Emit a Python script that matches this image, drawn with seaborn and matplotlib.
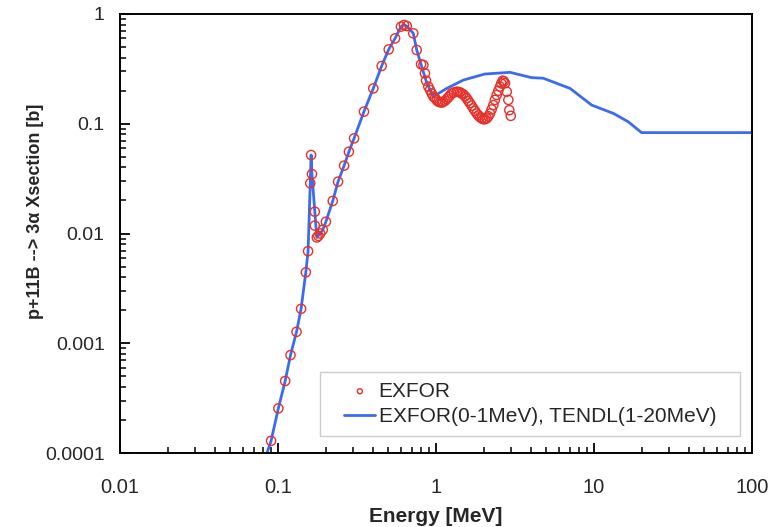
import numpy as np
import pandas as pd
import matplotlib
matplotlib.use("Agg")
import matplotlib.pyplot as plt
import matplotlib.ticker as mticker
from matplotlib.patches import Rectangle
import seaborn as sns

# EXFOR measured points (energy in MeV, cross section in barn)
exfor_e = [0.0904, 0.1005, 0.111, 0.120, 0.131, 0.140, 0.150, 0.155, 0.160, 0.162,
           0.164, 0.171, 0.171, 0.176, 0.180, 0.185, 0.192, 0.201, 0.222, 0.240,
           0.262, 0.281, 0.303, 0.350, 0.401, 0.453, 0.502, 0.551, 0.600, 0.627,
           0.653, 0.718, 0.755, 0.804, 0.832, 0.851, 0.865, 0.894, 0.917, 0.939,
           0.962, 0.986, 1.01, 1.034, 1.06, 1.087, 1.11, 1.140, 1.17, 1.196,
           1.225, 1.256, 1.30, 1.352, 1.385, 1.419, 1.45, 1.488, 1.525, 1.563,
           1.60, 1.641, 1.68, 1.722, 1.765, 1.811, 1.855, 1.897, 1.945, 1.991,
           2.04, 2.094, 2.145, 2.197, 2.25, 2.307, 2.36, 2.421, 2.48, 2.541,
           2.59, 2.642, 2.69, 2.733, 2.805, 2.870, 2.911, 2.972]
exfor_xs = [0.000129, 0.000255, 0.000453, 0.00078, 0.00127, 0.00206, 0.00443, 0.0069, 0.0287, 0.0519,
            0.0348, 0.0158, 0.0118, 0.0092, 0.0095, 0.0100, 0.0108, 0.0128, 0.0198, 0.0297,
            0.0415, 0.0556, 0.0736, 0.129, 0.210, 0.336, 0.476, 0.600, 0.767, 0.794,
            0.777, 0.667, 0.470, 0.348, 0.343, 0.288, 0.247, 0.218, 0.203, 0.189,
            0.177, 0.171, 0.164, 0.159, 0.157, 0.156, 0.158, 0.162, 0.168, 0.174,
            0.181, 0.189, 0.193, 0.196, 0.195, 0.193, 0.189, 0.185, 0.178, 0.171,
            0.162, 0.154, 0.146, 0.138, 0.131, 0.124, 0.119, 0.115, 0.112, 0.110,
            0.110, 0.112, 0.117, 0.124, 0.135, 0.148, 0.165, 0.183, 0.200, 0.218,
            0.233, 0.247, 0.243, 0.234, 0.196, 0.165, 0.133, 0.118]

# evaluated curve: EXFOR below 1 MeV, TENDL 1-20 MeV, flat above
eval_e = [0.0851, 0.0904, 0.1005, 0.111, 0.120, 0.131, 0.140, 0.150, 0.155, 0.160,
          0.162, 0.164, 0.171, 0.176, 0.185, 0.192, 0.201, 0.222, 0.240, 0.262,
          0.281, 0.303, 0.350, 0.401, 0.453, 0.502, 0.551, 0.600, 0.627, 0.653,
          0.718, 0.755, 0.804, 0.865, 0.917, 0.962, 1.17, 1.49, 2.04, 2.94,
          4.03, 4.77, 7.05, 9.66, 13.3, 16.5, 20.0, 100.0]
eval_xs = [0.0001, 0.000129, 0.000255, 0.000453, 0.00078, 0.00127, 0.00206, 0.00443, 0.0069, 0.0287,
           0.0519, 0.0348, 0.0158, 0.0092, 0.0100, 0.0108, 0.0128, 0.0198, 0.0297, 0.0415,
           0.0556, 0.0736, 0.129, 0.210, 0.336, 0.476, 0.600, 0.767, 0.794, 0.777,
           0.667, 0.470, 0.348, 0.247, 0.203, 0.177, 0.21, 0.25, 0.284, 0.294,
           0.263, 0.26, 0.21, 0.148, 0.124, 0.104, 0.083, 0.083]

exfor = pd.DataFrame({"E": exfor_e, "xs": exfor_xs})
evald = pd.DataFrame({"E": eval_e, "xs": eval_xs})

sns.set_style("ticks")
plt.rcParams["font.family"] = ["Liberation Sans", "DejaVu Sans"]

fig = plt.figure(figsize=(7.71, 5.27), dpi=100)
ax = fig.add_axes([120 / 771, 1 - 453 / 527, 632 / 771, 439 / 527])

sns.scatterplot(data=exfor, x="E", y="xs", ax=ax, marker="o", s=44,
                facecolors="none", edgecolor="#e8302a", linewidth=1.0,
                label="EXFOR", zorder=3)
sns.lineplot(data=evald, x="E", y="xs", ax=ax, color="#3a6cf0", linewidth=2.0,
             sort=False, label="EXFOR(0-1MeV), TENDL(1-20MeV)", zorder=2)

ax.set_xscale("log")
ax.set_yscale("log")
ax.set_xlim(0.01, 100)
ax.set_ylim(0.0001, 1)
ax.set_xticks([0.01, 0.1, 1, 10, 100])
ax.set_xticklabels(["0.01", "0.1", "1", "10", "100"])
ax.set_yticks([0.0001, 0.001, 0.01, 0.1, 1])
ax.set_yticklabels(["0.0001", "0.001", "0.01", "0.1", "1"])
ax.xaxis.set_minor_locator(mticker.LogLocator(base=10, subs=np.arange(2, 10), numticks=100))
ax.yaxis.set_minor_locator(mticker.LogLocator(base=10, subs=np.arange(2, 10), numticks=100))
ax.xaxis.set_minor_formatter(mticker.NullFormatter())
ax.yaxis.set_minor_formatter(mticker.NullFormatter())

ax.tick_params(axis="both", which="major", direction="in", length=7, width=1.3,
               color="black")
ax.tick_params(axis="both", which="minor", direction="in", length=4.5, width=1.1,
               color="black")
ax.tick_params(axis="x", which="major", pad=18, labelsize=14.5)
ax.tick_params(axis="y", which="major", pad=11, labelsize=14)
ax.tick_params(top=False, right=False, which="both")
for sp in ax.spines.values():
    sp.set_color("black")
    sp.set_linewidth(1.4)

ax.set_xlabel("Energy [MeV]", fontsize=15, fontweight="bold", labelpad=7)
ax.set_ylabel("p+11B --> 3\u03b1 Xsection [b]", fontsize=13, fontweight="bold")
ax.yaxis.set_label_coords(-0.12, 0.55)

# legend frame drawn as a plain box
ax.add_patch(Rectangle((0.316, 0.039), 0.665, 0.146, transform=ax.transAxes,
                       facecolor="white", edgecolor="#cccccc", linewidth=1.0,
                       zorder=4))
leg = ax.legend(loc="center", bbox_to_anchor=(0.649, 0.112), fontsize=15,
                frameon=False, handlelength=1.5, handletextpad=0.15,
                borderpad=0.0, labelspacing=0.3, markerscale=0.55)
leg.set_zorder(5)

fig.savefig("out.png", dpi=100)
